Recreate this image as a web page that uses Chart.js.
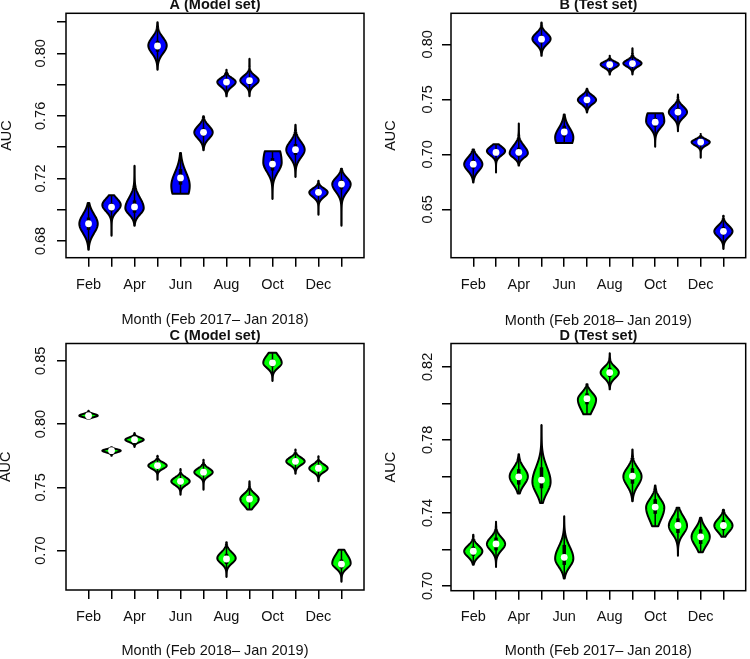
<!DOCTYPE html>
<html>
<head>
<meta charset="utf-8">
<script src="https://cdn.jsdelivr.net/npm/chart.js@4.4.0/dist/chart.umd.min.js"></script>
<style>
  body { margin: 0; background: #fff; }
  #wrap { position: relative; width: 750px; height: 659px; }
  canvas { position: absolute; }
</style>
</head>
<body>
<div id="wrap">
  <canvas id="cA" width="375" height="330" style="left:0;top:0"></canvas>
  <canvas id="cB" width="375" height="330" style="left:375px;top:0"></canvas>
  <canvas id="cC" width="375" height="329" style="left:0;top:330px"></canvas>
  <canvas id="cD" width="375" height="329" style="left:375px;top:330px"></canvas>
</div>
<script>
const months = ['Feb', 'Mar', 'Apr', 'May', 'Jun', 'Jul', 'Aug', 'Sep', 'Oct', 'Nov', 'Dec', 'Jan'];

// A (Model set) -- per-month AUC distribution: median, range, quartiles, widest point, spread above/below
const aMed  = [0.691, 0.7017, 0.7018, 0.8047, 0.7203, 0.7495, 0.7816, 0.7825, 0.7292, 0.7384, 0.7111, 0.7164];
const aLo   = [0.6744, 0.6834, 0.6898, 0.7895, 0.7102, 0.7380, 0.7725, 0.7725, 0.7068, 0.7209, 0.6968, 0.6898];
const aHi   = [0.7043, 0.7092, 0.7281, 0.8198, 0.7363, 0.7597, 0.7895, 0.7965, 0.7373, 0.7543, 0.7185, 0.7262];
const aQ1   = [0.687, 0.699, 0.698, 0.801, 0.716, 0.747, 0.780, 0.780, 0.725, 0.735, 0.709, 0.713];
const aQ3   = [0.695, 0.704, 0.706, 0.808, 0.726, 0.752, 0.783, 0.784, 0.733, 0.742, 0.713, 0.719];
const aMode = [0.691, 0.703, 0.701, 0.805, 0.7153, 0.7495, 0.7817, 0.7827, 0.7302, 0.7384, 0.7111, 0.7164];
const aSdUp = [0.006, 0.004, 0.0065, 0.005, 0.0085, 0.004, 0.0025, 0.003, 0.012, 0.005, 0.0025, 0.004];
const aSdDn = [0.006, 0.004, 0.004, 0.005, 0.010, 0.004, 0.003, 0.003, 0.006, 0.005, 0.003, 0.005];
const aYTicks  = [0.68, 0.70, 0.72, 0.74, 0.76, 0.78, 0.80, 0.82];
const aYLabels = [0.68, 0.72, 0.76, 0.80];

// B (Test set)
const bMed  = [0.691, 0.7017, 0.7018, 0.8047, 0.7203, 0.7495, 0.7816, 0.7825, 0.7292, 0.7384, 0.7111, 0.630];
const bLo   = [0.6744, 0.6834, 0.6898, 0.7895, 0.7102, 0.7380, 0.7725, 0.7725, 0.7068, 0.7209, 0.6968, 0.6139];
const bHi   = [0.7043, 0.7092, 0.7281, 0.8198, 0.7363, 0.7597, 0.7895, 0.7965, 0.7373, 0.7543, 0.7185, 0.6442];
const bQ1   = [0.687, 0.699, 0.698, 0.801, 0.716, 0.747, 0.780, 0.780, 0.725, 0.735, 0.709, 0.627];
const bQ3   = [0.695, 0.704, 0.706, 0.808, 0.726, 0.752, 0.783, 0.784, 0.733, 0.742, 0.713, 0.634];
const bMode = [0.691, 0.703, 0.701, 0.805, 0.7153, 0.7495, 0.7817, 0.7827, 0.7302, 0.7384, 0.7111, 0.630];
const bSdUp = [0.006, 0.004, 0.0065, 0.005, 0.0085, 0.004, 0.0025, 0.003, 0.012, 0.005, 0.0025, 0.005];
const bSdDn = [0.006, 0.004, 0.004, 0.005, 0.010, 0.004, 0.003, 0.003, 0.006, 0.005, 0.003, 0.005];
const bYTicks  = [0.65, 0.70, 0.75, 0.80];
const bYLabels = [0.65, 0.70, 0.75, 0.80];

// C (Model set)
const cMed  = [0.8067, 0.7790, 0.7877, 0.7672, 0.7548, 0.7620, 0.6934, 0.7408, 0.8484, 0.7706, 0.7651, 0.6894];
const cLo   = [0.8045, 0.7750, 0.7820, 0.7560, 0.7442, 0.7482, 0.6792, 0.7325, 0.8340, 0.7607, 0.7548, 0.6755];
const cHi   = [0.8105, 0.7818, 0.7930, 0.7750, 0.7646, 0.7719, 0.7067, 0.7548, 0.8563, 0.7799, 0.7746, 0.7007];
const cQ1   = [0.8060, 0.7783, 0.7865, 0.7650, 0.7525, 0.7595, 0.6895, 0.7385, 0.8455, 0.7685, 0.7630, 0.6860];
const cQ3   = [0.8075, 0.7797, 0.7890, 0.7695, 0.7570, 0.7645, 0.6975, 0.7440, 0.8510, 0.7730, 0.7675, 0.6930];
const cMode = [0.8067, 0.7790, 0.7877, 0.7672, 0.7548, 0.7620, 0.6940, 0.7408, 0.8484, 0.7706, 0.7651, 0.6900];
const cSdUp = [0.0013, 0.0011, 0.0017, 0.0025, 0.003, 0.003, 0.0045, 0.004, 0.006, 0.003, 0.003, 0.007];
const cSdDn = [0.0012, 0.0013, 0.0018, 0.0025, 0.003, 0.003, 0.004, 0.005, 0.004, 0.003, 0.003, 0.004];
const cYTicks  = [0.70, 0.75, 0.80, 0.85];
const cYLabels = [0.70, 0.75, 0.80, 0.85];

// D (Test set)
const dMed  = [0.7190, 0.7230, 0.7598, 0.7580, 0.7157, 0.8026, 0.8169, 0.7602, 0.7432, 0.7331, 0.7269, 0.7331];
const dLo   = [0.7116, 0.7104, 0.7507, 0.7455, 0.7041, 0.7940, 0.8077, 0.7464, 0.7327, 0.7166, 0.7185, 0.7269];
const dHi   = [0.7281, 0.7351, 0.7721, 0.7882, 0.7382, 0.8105, 0.8275, 0.7748, 0.7550, 0.7428, 0.7373, 0.7418];
const dQ1   = [0.7165, 0.7195, 0.7555, 0.7535, 0.7115, 0.7995, 0.8145, 0.7560, 0.7395, 0.7290, 0.7230, 0.7305];
const dQ3   = [0.7215, 0.7265, 0.7640, 0.7650, 0.7225, 0.8055, 0.8195, 0.7645, 0.7475, 0.7370, 0.7310, 0.7360];
const dMode = [0.7190, 0.7230, 0.7600, 0.7570, 0.7150, 0.8022, 0.8169, 0.7600, 0.7430, 0.7330, 0.7270, 0.7331];
const dSdUp = [0.003, 0.0035, 0.0045, 0.008, 0.0065, 0.0035, 0.003, 0.0045, 0.0045, 0.005, 0.0045, 0.0035];
const dSdDn = [0.003, 0.0035, 0.0045, 0.006, 0.0045, 0.006, 0.003, 0.005, 0.007, 0.0045, 0.005, 0.0035];
const dYTicks  = [0.70, 0.72, 0.74, 0.76, 0.78, 0.80, 0.82];
const dYLabels = [0.70, 0.74, 0.78, 0.82];

const FONT = '"Liberation Sans", Arial, Helvetica, sans-serif';
const TEXT = '#111';

// violin shapes + whisker + IQR bar, drawn under the median points
function violinPlugin(v, fill) {
  return {
    id: 'violin',
    beforeDatasetsDraw(chart) {
      const { ctx, scales: { x, y } } = chart;
      ctx.save();
      v.med.forEach((m, i) => {
        const xc = x.getPixelForValue(i + 1);
        const half = x.getPixelForValue(i + 1.4) - xc;
        const n = 90;
        const pts = [];
        for (let k = 0; k <= n; k++) {
          const val = v.lo[i] + (v.hi[i] - v.lo[i]) * k / n;
          const d = val - v.mode[i];
          const s = d > 0 ? v.sdUp[i] : v.sdDn[i];
          pts.push([y.getPixelForValue(val), half * Math.exp(-0.5 * (d / s) * (d / s))]);
        }
        ctx.beginPath();
        ctx.moveTo(xc, pts[0][0]);
        pts.forEach(p => ctx.lineTo(xc + p[1], p[0]));
        ctx.lineTo(xc, pts[n][0]);
        for (let k = n; k >= 0; k--) ctx.lineTo(xc - pts[k][1], pts[k][0]);
        ctx.closePath();
        ctx.fillStyle = fill;
        ctx.fill();
        ctx.lineWidth = 2;
        ctx.lineJoin = 'round';
        ctx.strokeStyle = '#000';
        ctx.stroke();

        ctx.lineWidth = 1.5;
        ctx.beginPath();
        ctx.moveTo(xc, y.getPixelForValue(v.lo[i]));
        ctx.lineTo(xc, y.getPixelForValue(v.hi[i]));
        ctx.stroke();

        ctx.lineWidth = 3.5;
        ctx.lineCap = 'butt';
        ctx.beginPath();
        ctx.moveTo(xc, y.getPixelForValue(v.q1[i]));
        ctx.lineTo(xc, y.getPixelForValue(v.q3[i]));
        ctx.stroke();
      });
      ctx.restore();
    }
  };
}

// plot box and R-style rotated y tick labels
function framePlugin(P) {
  return {
    id: 'frame',
    afterDraw(chart) {
      const { ctx, chartArea: a, scales: { y } } = chart;
      ctx.save();
      ctx.strokeStyle = '#000';
      ctx.lineWidth = 1.5;
      ctx.strokeRect(a.left, a.top, a.right - a.left, a.bottom - a.top);
      ctx.fillStyle = TEXT;
      ctx.font = '14.5px ' + FONT;
      ctx.textAlign = 'center';
      ctx.textBaseline = 'middle';
      P.yLabels.forEach(v => {
        ctx.save();
        ctx.translate(P.yLabelX, y.getPixelForValue(v));
        ctx.rotate(-Math.PI / 2);
        ctx.fillText(v.toFixed(2), 0, 0);
        ctx.restore();
      });
      ctx.restore();
    }
  };
}

function makeChart(id, P) {
  const tickGrid = { drawOnChartArea: false, drawTicks: true, tickLength: 9, color: '#000', lineWidth: 1.5 };
  return new Chart(document.getElementById(id), {
    type: 'scatter',
    data: {
      datasets: [{
        data: P.med.map((m, i) => ({ x: i + 1, y: m })),
        pointRadius: 3.4,
        pointHoverRadius: 3.4,
        pointBackgroundColor: '#fff',
        pointBorderColor: '#fff',
        pointBorderWidth: 0
      }]
    },
    options: {
      responsive: false,
      animation: false,
      events: [],
      layout: { padding: { left: 0, right: P.padRight, top: 0, bottom: 0 } },
      plugins: {
        legend: { display: false },
        tooltip: { enabled: false },
        title: {
          display: true, text: P.title, fullSize: false, color: TEXT,
          font: { family: FONT, size: 14.5, weight: 'bold', lineHeight: 1 },
          padding: { top: P.titleY - 7.25, bottom: P.plotTop - 14.5 - (P.titleY - 7.25) }
        }
      },
      scales: {
        x: {
          type: 'linear', min: 0.02, max: 12.98,
          afterBuildTicks: s => { s.ticks = months.map((m, i) => ({ value: i + 1 })); },
          afterFit: s => { s.height = P.xAxisH; },
          ticks: {
            autoSkip: false, maxRotation: 0, minRotation: 0, padding: P.xTickPad, color: TEXT,
            font: { family: FONT, size: 14.5, lineHeight: 1.2 },
            callback: (v, i) => (i % 2 === 0 ? months[i] : '')
          },
          grid: tickGrid,
          border: { display: false },
          title: {
            display: true, text: P.xTitle, color: TEXT,
            font: { family: FONT, size: 14.5, lineHeight: 1.2 },
            padding: { top: 0, bottom: P.xTitlePad }
          }
        },
        y: {
          type: 'linear', min: P.yMin, max: P.yMax,
          afterBuildTicks: s => { s.ticks = P.yTicks.map(v => ({ value: v })); },
          afterFit: s => { s.width = P.yAxisW; },
          ticks: { display: false },
          grid: tickGrid,
          border: { display: false },
          title: {
            display: true, text: 'AUC', color: TEXT,
            font: { family: FONT, size: 14.5, lineHeight: 1 },
            padding: { top: P.yTitleX - 7.25, bottom: 0 }
          }
        }
      }
    },
    plugins: [violinPlugin(P, P.fill), framePlugin(P)]
  });
}

makeChart('cA', {
  title: 'A (Model set)', xTitle: 'Month (Feb 2017\u2013 Jan 2018)', fill: '#0000ff',
  med: aMed, lo: aLo, hi: aHi, q1: aQ1, q3: aQ3, mode: aMode, sdUp: aSdUp, sdDn: aSdDn,
  yTicks: aYTicks, yLabels: aYLabels, yMin: 0.6693, yMax: 0.8256,
  padRight: 11, yAxisW: 66, plotTop: 13.3, titleY: 4.5, xAxisH: 72.3,
  xTickPad: 9.6, xTitlePad: 1.3, yTitleX: 6.7, yLabelX: 41
});
makeChart('cB', {
  title: 'B (Test set)', xTitle: 'Month (Feb 2018\u2013 Jan 2019)', fill: '#0000ff',
  med: bMed, lo: bLo, hi: bHi, q1: bQ1, q3: bQ3, mode: bMode, sdUp: bSdUp, sdDn: bSdDn,
  yTicks: bYTicks, yLabels: bYLabels, yMin: 0.606, yMax: 0.8282,
  padRight: 4.3, yAxisW: 76, plotTop: 13.3, titleY: 4.5, xAxisH: 72.3,
  xTickPad: 9.6, xTitlePad: 0.8, yTitleX: 15.8, yLabelX: 52.5
});
makeChart('cC', {
  title: 'C (Model set)', xTitle: 'Month (Feb 2018\u2013 Jan 2019)', fill: '#00ff00',
  med: cMed, lo: cLo, hi: cHi, q1: cQ1, q3: cQ3, mode: cMode, sdUp: cSdUp, sdDn: cSdDn,
  yTicks: cYTicks, yLabels: cYLabels, yMin: 0.6689, yMax: 0.8637,
  padRight: 11, yAxisW: 66, plotTop: 13.5, titleY: 5.7, xAxisH: 69,
  xTickPad: 9.5, xTitlePad: -0.7, yTitleX: 6, yLabelX: 41
});
makeChart('cD', {
  title: 'D (Test set)', xTitle: 'Month (Feb 2017\u2013 Jan 2018)', fill: '#00ff00',
  med: dMed, lo: dLo, hi: dHi, q1: dQ1, q3: dQ3, mode: dMode, sdUp: dSdUp, sdDn: dSdDn,
  yTicks: dYTicks, yLabels: dYLabels, yMin: 0.6974, yMax: 0.8328,
  padRight: 4.3, yAxisW: 76, plotTop: 13.5, titleY: 5.7, xAxisH: 68.3,
  xTickPad: 8.8, xTitlePad: -0.7, yTitleX: 15.8, yLabelX: 52.5
});
</script>
</body>
</html>
